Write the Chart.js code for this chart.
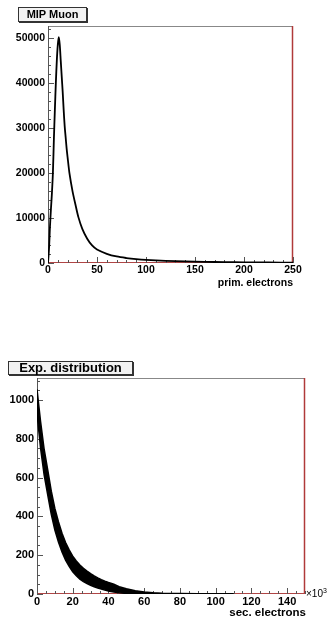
<!DOCTYPE html>
<html>
<head>
<meta charset="utf-8">
<script src="https://cdn.jsdelivr.net/npm/chart.js@4/dist/chart.umd.min.js"></script>
<style>
  body { margin: 0; background: #fff; }
  #page { position: relative; width: 330px; height: 620px; font-family: "Liberation Sans", Arial, sans-serif; }
  canvas { position: absolute; left: 0; }
  .box {
    position: absolute; box-sizing: border-box; border: 1px solid #333;
    background: #f2f2f2; box-shadow: 1px 1px 0 #333; font-weight: bold;
    text-align: center; color: #000;
  }
  .axt { position: absolute; font-weight: bold; color: #000; white-space: nowrap; }
</style>
</head>
<body>
<div id="page">
  <canvas id="muon" width="330" height="310" style="top:0"></canvas>
  <canvas id="expo" width="330" height="310" style="top:310px"></canvas>
  <div class="box" style="left:18px;top:7px;width:69px;height:15px;font-size:11px;line-height:13px">MIP Muon</div>
  <div class="box" style="left:8px;top:361px;width:125px;height:14px;font-size:13px;line-height:12px">Exp. distribution</div>
  <div class="axt" style="right:37px;top:276px;font-size:10.5px;line-height:12px">prim. electrons</div>
  <div class="axt" style="right:24px;top:606px;font-size:11.5px;line-height:12px">sec. electrons</div>
  <div class="axt" style="left:306px;top:586px;font-size:10px;line-height:10px;font-weight:normal">×10<sup style="font-size:7px">3</sup></div>
</div>
<script>
// MIP Muon: primary electrons spectrum
const muonX = [0, 1, 2, 3, 4, 5, 6, 7, 8, 9, 10, 11, 12, 13, 14, 15, 16, 17, 18, 19, 20,
  22, 25, 28, 31, 35, 40, 45, 50, 60, 70, 80, 90, 100, 120, 140, 160, 180, 200, 225, 250];
const muonY = [0, 3000, 8000, 12000, 15500, 20000, 27500, 34000, 40000, 45000, 48500, 50200,
  48500, 45000, 41500, 38000, 34000, 30500, 28000, 25500, 23500,
  19800, 16000, 13000, 10200, 7600, 5400, 3900, 3000, 2050, 1450, 1100, 850, 680, 470, 340,
  250, 190, 150, 115, 90];

// Exp. distribution: secondary electrons (x in units of 10^3), noisy band upper/lower edges
const expX = [0, 2, 4, 6, 8, 10, 12, 14, 16, 18, 20, 22, 24, 26, 28, 30, 32, 34, 36, 38, 40,
  43, 46, 50, 55, 60, 65, 70, 80, 90, 100, 110];
const expHigh = [1055, 888, 746, 639, 530, 441, 372, 313, 265, 227, 195, 170, 149, 132, 118,
  105, 93, 83, 74, 66, 59, 50, 38, 27, 17, 10, 6, 4, 2.5, 1.5, 1, 1];
const expLow = [930, 752, 614, 511, 410, 329, 268, 217, 175, 143, 115, 94, 77, 64, 54,
  45, 37, 31, 26, 20, 15, 10, 6, 3, 1, 0, 0, 0, 0, 0, 0, 0];

// tick labels
const muonYLabels = [0, 10000, 20000, 30000, 40000, 50000];
const muonXLabels = [0, 50, 100, 150, 200, 250];
const expYLabels = [0, 200, 400, 600, 800, 1000];
const expXLabels = [0, 20, 40, 60, 80, 100, 120, 140];

const muonYTicks = { max: 52700, step: 10000, minor: 2000, labels: muonYLabels };
const muonXTicks = { max: 250, step: 50, minor: 10, labels: muonXLabels };
const expYTicks = { max: 1113, step: 200, minor: 50, labels: expYLabels };
const expXTicks = { max: 150, step: 20, minor: 5, labels: expXLabels };

function pts(xs, ys) {
  return xs.map((x, i) => ({ x: x, y: ys[i] }));
}

const rootFrame = {
  id: "rootFrame",
  beforeDatasetsDraw(chart, args, opts) {
    const ctx = chart.ctx;
    const a = chart.chartArea;
    const seg = (x1, y1, x2, y2, col, w) => {
      ctx.strokeStyle = col;
      ctx.lineWidth = w;
      ctx.beginPath();
      ctx.moveTo(x1, y1);
      ctx.lineTo(x2, y2);
      ctx.stroke();
    };
    ctx.save();
    seg(a.left, a.top + 0.5, a.right, a.top + 0.5, "#888", 1);
    seg(a.right - 0.5, a.top, a.right - 0.5, a.bottom, "#b03a3a", 1.5);
    seg(a.left, a.bottom - 0.5, a.right, a.bottom - 0.5, "#b04545", 1.2);
    seg(a.left + 0.5, a.top, a.left + 0.5, a.bottom, "#555", 1);

    const xs = chart.scales.x, ys = chart.scales.y;
    for (let v = 0; v <= opts.x.max + 1e-6; v += opts.x.minor) {
      const px = Math.round(xs.getPixelForValue(v)) + 0.5;
      const major = Math.abs(v / opts.x.step - Math.round(v / opts.x.step)) < 1e-6;
      seg(px, a.bottom, px, a.bottom - (major ? 6 : 3), "#555", 1);
    }
    for (let v = 0; v <= opts.y.max + 1e-6; v += opts.y.minor) {
      const py = Math.round(ys.getPixelForValue(v)) + 0.5;
      const major = Math.abs(v / opts.y.step - Math.round(v / opts.y.step)) < 1e-6;
      seg(a.left, py, a.left + (major ? 6 : 3), py, "#555", 1);
    }
    ctx.restore();
  },
};

function axis(t, size, extra) {
  return Object.assign({
    type: "linear",
    min: 0,
    max: t.max,
    grid: { display: false, drawTicks: false },
    border: { display: false },
    afterBuildTicks: (s) => { s.ticks = t.labels.map((v) => ({ value: v })); },
    ticks: {
      autoSkip: false,
      maxRotation: 0,
      color: "#000",
      font: { family: "Liberation Sans", weight: "bold", size: size },
      callback: (v) => String(v),
    },
  }, extra);
}

function baseOptions(cfg) {
  const x = axis(cfg.xt, cfg.fontSize, { afterFit: (s) => { s.height = cfg.xHeight; } });
  x.ticks.padding = 1;
  const y = axis(cfg.yt, cfg.fontSize, { afterFit: (s) => { s.width = cfg.yWidth; } });
  y.ticks.padding = 3;
  return {
    responsive: false,
    animation: false,
    layout: { padding: { top: cfg.padTop, right: cfg.padRight, left: 0, bottom: 0 } },
    plugins: {
      legend: { display: false },
      tooltip: { enabled: false },
      rootFrame: { x: cfg.xt, y: cfg.yt },
    },
    elements: { point: { radius: 0 } },
    scales: { x: x, y: y },
  };
}

new Chart(document.getElementById("muon"), {
  type: "line",
  data: {
    datasets: [{
      data: pts(muonX, muonY),
      borderColor: "#000",
      borderWidth: 1.8,
      tension: 0.3,
      fill: false,
    }],
  },
  options: baseOptions({
    padTop: 26, padRight: 37, xHeight: 47, yWidth: 48, fontSize: 10.5,
    xt: muonXTicks, yt: muonYTicks,
  }),
  plugins: [rootFrame],
});

new Chart(document.getElementById("expo"), {
  type: "line",
  data: {
    datasets: [
      {
        data: pts(expX, expLow),
        borderColor: "#000",
        borderWidth: 1.5,
        fill: false,
      },
      {
        data: pts(expX, expHigh),
        borderColor: "#000",
        borderWidth: 1.5,
        backgroundColor: "#000",
        fill: "-1",
      },
    ],
  },
  options: baseOptions({
    padTop: 68, padRight: 25, xHeight: 26, yWidth: 37, fontSize: 11,
    xt: expXTicks, yt: expYTicks,
  }),
  plugins: [rootFrame],
});
</script>
</body>
</html>
